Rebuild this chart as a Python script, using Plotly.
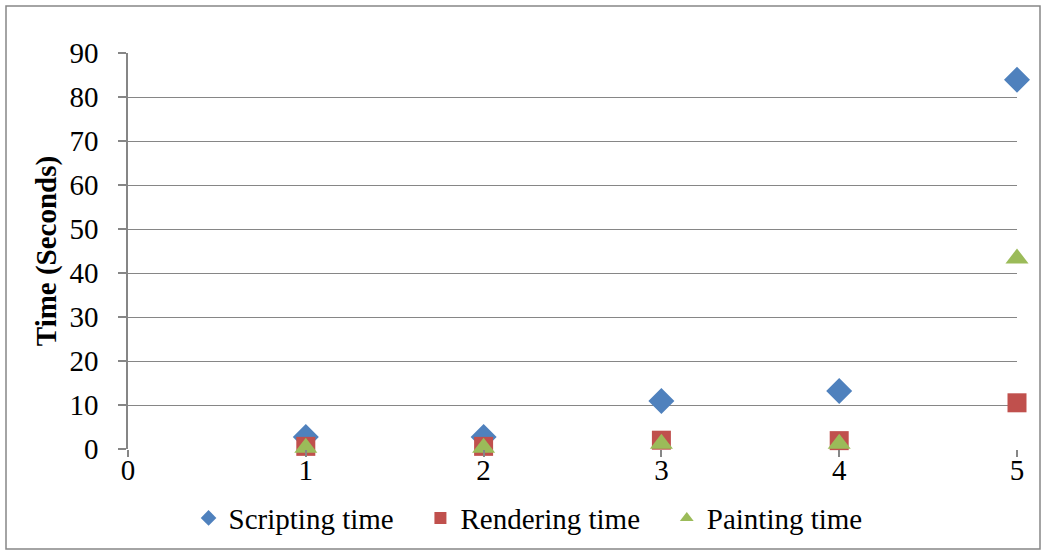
import plotly.graph_objects as go

# Timing measurements per run
runs = [1, 2, 3, 4, 5]
scripting_time = [2.7, 2.7, 10.9, 13.2, 83.9]
rendering_time = [0.6, 0.6, 2.0, 1.9, 10.5]
painting_time = [0.3, 0.3, 1.2, 1.2, 43.3]

x_ticks = [0, 1, 2, 3, 4, 5]
y_ticks = [0, 10, 20, 30, 40, 50, 60, 70, 80, 90]

series_names = ["Scripting time", "Rendering time", "Painting time"]

FONT = "Liberation Serif"
GRID = "#868686"
FS = 29
PAD = "\u00a0\u00a0\u00a0"  # trailing gap after each legend entry

fig = go.Figure()
fig.add_trace(go.Scatter(x=runs, y=scripting_time, mode="markers", name=series_names[0] + PAD,
                         cliponaxis=False,
                         marker=dict(symbol="diamond", size=20, color="#4F81BD")))
fig.add_trace(go.Scatter(x=runs, y=rendering_time, mode="markers", name=series_names[1] + PAD,
                         cliponaxis=False,
                         marker=dict(symbol="square", size=19, color="#C0504D")))
fig.add_trace(go.Scatter(x=runs, y=painting_time, mode="markers", name=series_names[2],
                         cliponaxis=False,
                         marker=dict(symbol="triangle-up", size=20, color="#9BBB59")))

fig.update_layout(
    width=1044, height=553,
    margin=dict(l=128, r=27, t=53, b=104, autoexpand=False),
    paper_bgcolor="white", plot_bgcolor="white",
    font=dict(family=FONT, size=FS, color="black"),
    showlegend=True,
    legend=dict(orientation="h", x=0.45, xanchor="center", y=-0.11, yanchor="top",
                bgcolor="rgba(0,0,0,0)", itemsizing="constant",
                font=dict(family=FONT, size=FS), itemwidth=30, tracegroupgap=0),
    xaxis=dict(range=[0, 5], tickvals=x_ticks, showgrid=False, zeroline=False,
               showline=False, ticks="outside", ticklen=7, tickcolor=GRID, tickwidth=1.5,
               ticklabelstandoff=-12,
               tickfont=dict(family=FONT, size=FS)),
    yaxis=dict(range=[0, 90], tickvals=y_ticks, showgrid=True, gridcolor=GRID, gridwidth=1.3,
               zeroline=False, showline=True, linecolor=GRID, linewidth=1.5,
               ticks="outside", ticklen=8, tickcolor=GRID, tickwidth=1.5,
               ticklabelstandoff=14,
               tickfont=dict(family=FONT, size=FS),
               title=dict(text="<b>Time (Seconds)</b>", font=dict(family=FONT, size=FS),
                          standoff=4)),
    shapes=[dict(type="rect", xref="paper", yref="paper",
                 x0=(6 - 128) / 889, x1=(1040 - 128) / 889,
                 y0=(449 - 549) / 396, y1=(449 - 6) / 396,
                 line=dict(color=GRID, width=1.5), fillcolor="rgba(0,0,0,0)", layer="below")],
)

fig.write_html("out.html")
